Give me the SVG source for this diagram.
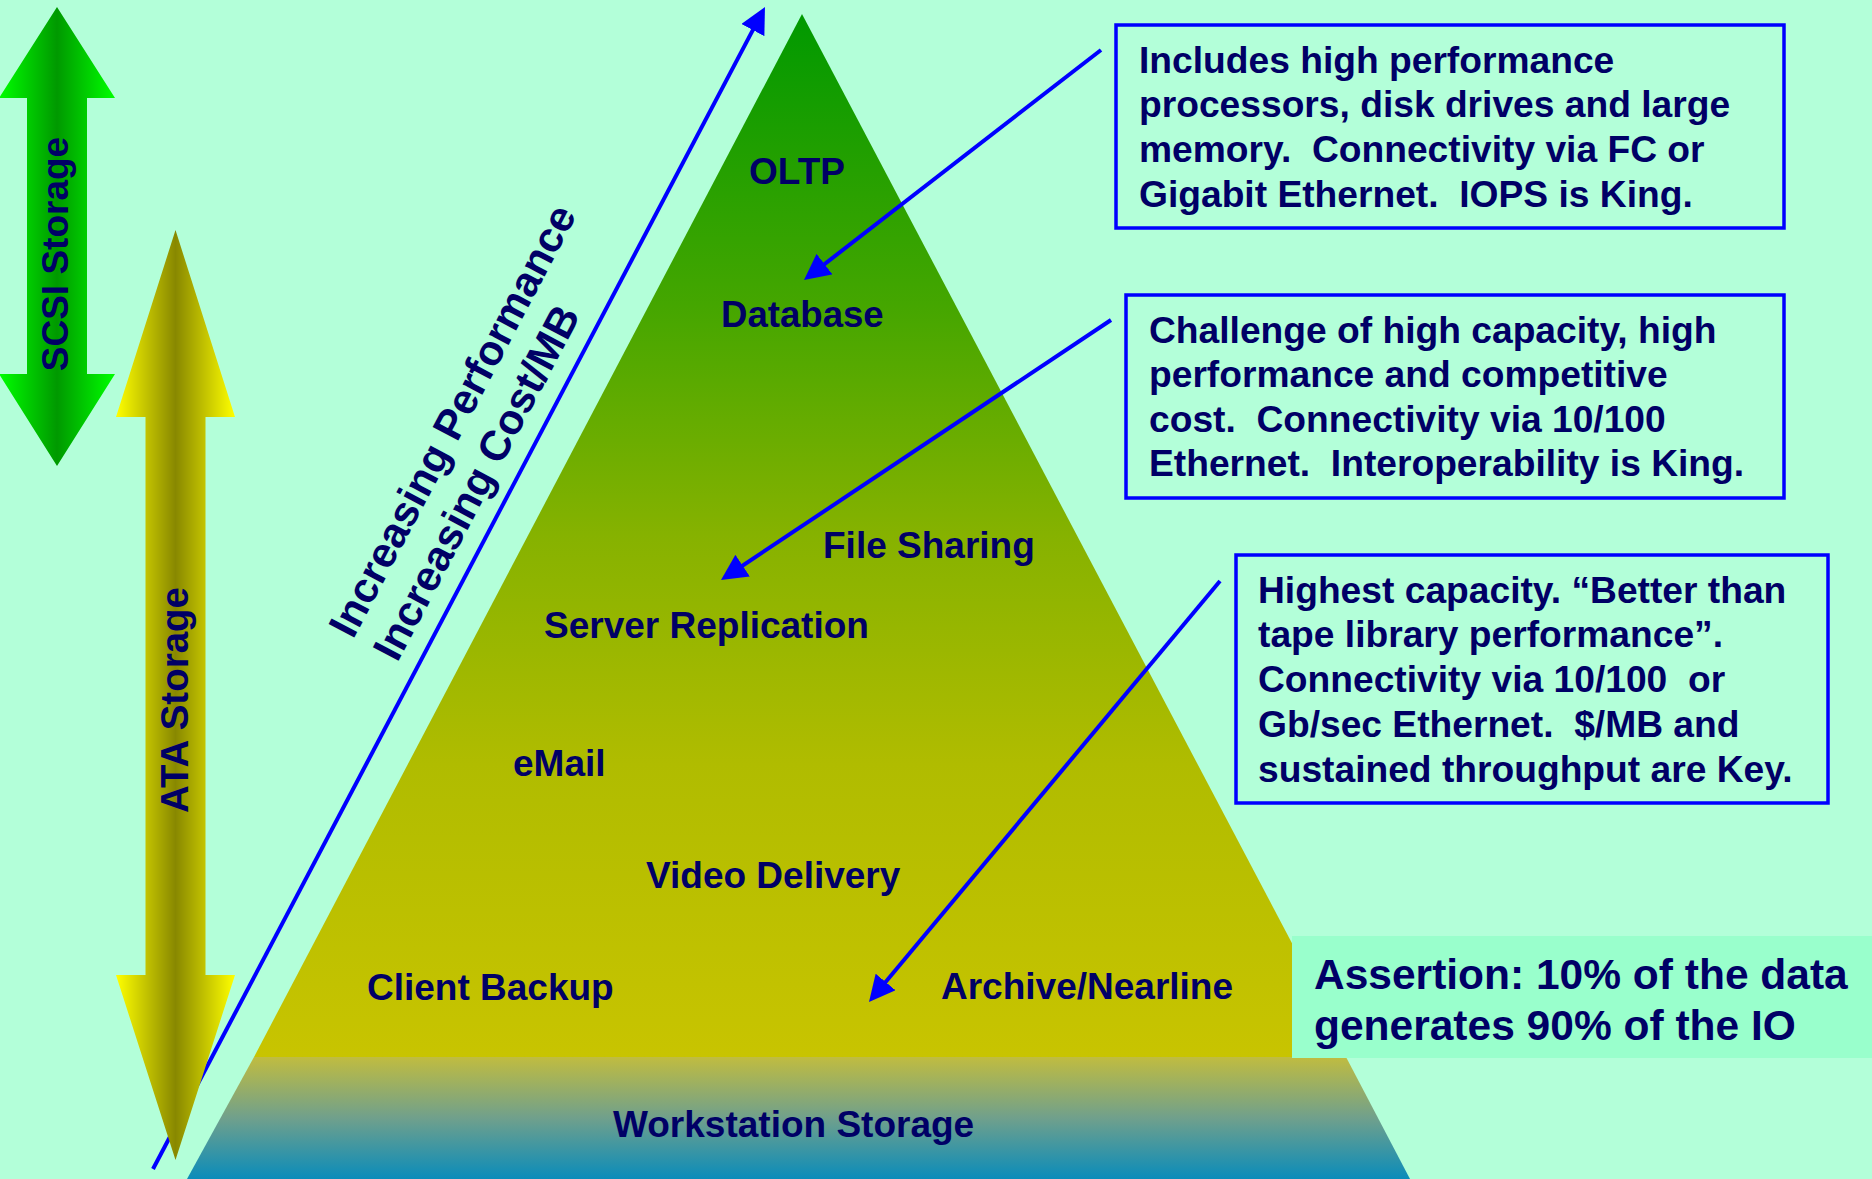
<svg xmlns="http://www.w3.org/2000/svg" width="1872" height="1179" viewBox="0 0 1872 1179">
<defs>
  <linearGradient id="gScsi" gradientUnits="userSpaceOnUse" x1="-1" y1="0" x2="115" y2="0">
    <stop offset="0" stop-color="#00FF00"/>
    <stop offset="0.5" stop-color="#009900"/>
    <stop offset="1" stop-color="#00FF00"/>
  </linearGradient>
  <linearGradient id="gAta" gradientUnits="userSpaceOnUse" x1="116" y1="0" x2="235" y2="0">
    <stop offset="0" stop-color="#FFFF00"/>
    <stop offset="0.5" stop-color="#888800"/>
    <stop offset="1" stop-color="#FFFF00"/>
  </linearGradient>
  <linearGradient id="gPyr" gradientUnits="userSpaceOnUse" x1="0" y1="14" x2="0" y2="1057">
    <stop offset="0" stop-color="#009900"/>
    <stop offset="0.28" stop-color="#45A600"/>
    <stop offset="0.5" stop-color="#86B200"/>
    <stop offset="0.72" stop-color="#B0BC00"/>
    <stop offset="1" stop-color="#C8C400"/>
  </linearGradient>
  <linearGradient id="gBase" gradientUnits="userSpaceOnUse" x1="0" y1="1057" x2="0" y2="1179">
    <stop offset="0" stop-color="#C0BC40"/>
    <stop offset="0.5" stop-color="#70A08C"/>
    <stop offset="1" stop-color="#0A8CBA"/>
  </linearGradient>
  <marker id="ah" markerUnits="userSpaceOnUse" markerWidth="26" markerHeight="26" viewBox="0 0 26 26" refX="16" refY="13" orient="auto">
    <path d="M0,0 L26,13 L0,26 z" fill="#0000FF"/>
  </marker>
</defs>
<style>
  .t{font-family:"Liberation Sans",Arial,sans-serif;font-weight:bold;fill:#000066;white-space:pre}
  .lbl{font-size:37px}
  .bt{font-size:37.2px}
  .box{fill:none;stroke:#0000FF;stroke-width:3.5}
  .conn{stroke:#0000FF;stroke-width:4;fill:none;marker-end:url(#ah)}
</style>
<rect x="0" y="0" width="1872" height="1179" fill="#B3FFD9"/>

<g id="pyramid">
  <polygon points="802,14 1352,1057 254,1057" fill="url(#gPyr)"/>
  <polygon points="254,1057 1346,1057 1410,1179 187,1179" fill="url(#gBase)"/>
  <text class="t lbl" x="749" y="184">OLTP</text>
  <text class="t" x="721" y="327" font-size="36.6">Database</text>
  <text class="t lbl" x="823" y="558">File Sharing</text>
  <text class="t lbl" x="544" y="638">Server Replication</text>
  <text class="t lbl" x="513" y="776">eMail</text>
  <text class="t lbl" x="646" y="888">Video Delivery</text>
  <text class="t lbl" x="367" y="1000">Client Backup</text>
  <text class="t lbl" x="941" y="999">Archive/Nearline</text>
  <text class="t lbl" x="613" y="1137">Workstation Storage</text>
</g>

<g id="perf-axis">
  <line class="conn" x1="153" y1="1169" x2="760.3" y2="15.9"/>
  <g transform="translate(353,640) rotate(-62.2)">
    <text class="t" x="0" y="0" font-size="42.2">Increasing Performance</text>
    <text class="t" x="0" y="50" font-size="42.2">Increasing Cost/MB</text>
  </g>
</g>

<g id="scsi">
  <polygon points="57,7 115,98 87,98 87,374 115,374 57,466 -1,374 27,374 27,98 -1,98" fill="url(#gScsi)"/>
  <text class="t" transform="translate(68,254) rotate(-90)" text-anchor="middle" font-size="37">SCSI Storage</text>
</g>

<g id="ata">
  <polygon points="175.5,230 235,417 205.5,417 205.5,975 235,975 175.5,1160 116,975 145.5,975 145.5,417 116,417" fill="url(#gAta)"/>
  <text class="t" transform="translate(188,700) rotate(-90)" text-anchor="middle" font-size="38.5">ATA Storage</text>
</g>

<g id="box1">
  <rect class="box" x="1116" y="25" width="668" height="203"/>
  <text class="t bt" x="1139" y="73">Includes high performance</text>
  <text class="t bt" x="1139" y="117">processors, disk drives and large</text>
  <text class="t bt" x="1139" y="162">memory.  Connectivity via FC or</text>
  <text class="t bt" x="1139" y="207">Gigabit Ethernet.  IOPS is King.</text>
</g>

<g id="box2">
  <rect class="box" x="1126" y="295" width="658" height="203"/>
  <text class="t bt" x="1149" y="343">Challenge of high capacity, high</text>
  <text class="t bt" x="1149" y="387">performance and competitive</text>
  <text class="t bt" x="1149" y="432">cost.  Connectivity via 10/100</text>
  <text class="t bt" x="1149" y="476">Ethernet.  Interoperability is King.</text>
</g>

<g id="box3">
  <rect class="box" x="1236" y="555" width="592" height="248"/>
  <text class="t bt" x="1258" y="603">Highest capacity. “Better than</text>
  <text class="t bt" x="1258" y="647">tape library performance”.</text>
  <text class="t bt" x="1258" y="692">Connectivity via 10/100  or</text>
  <text class="t bt" x="1258" y="737">Gb/sec Ethernet.  $/MB and</text>
  <text class="t bt" x="1258" y="782">sustained throughput are Key.</text>
</g>

<g id="assertion">
  <rect x="1292" y="936" width="580" height="122" fill="#99FFCC"/>
  <text class="t" x="1314" y="989" font-size="42.5">Assertion: 10% of the data</text>
  <text class="t" x="1314" y="1040" font-size="42.5">generates 90% of the IO</text>
</g>

<g id="connectors">
  <line class="conn" x1="1101" y1="50" x2="811.9" y2="273.9"/>
  <line class="conn" x1="1111" y1="320" x2="729.3" y2="574.5"/>
  <line class="conn" x1="1220" y1="581" x2="875.4" y2="994.3"/>
</g>
</svg>
